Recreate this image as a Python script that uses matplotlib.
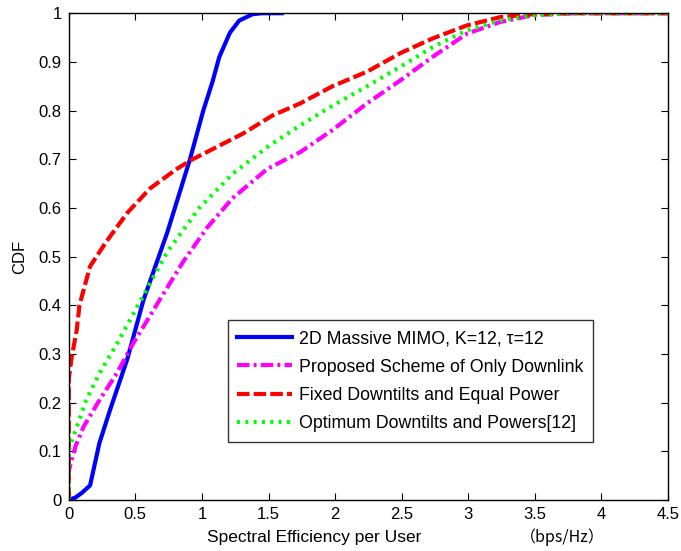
import matplotlib
matplotlib.use("Agg")
import matplotlib.pyplot as plt

plt.rcParams['font.family'] = ['Liberation Sans', 'Noto Sans CJK SC', 'DejaVu Sans']

# 2D Massive MIMO
x_mimo = [0, 0.05, 0.1, 0.16, 0.23, 0.31, 0.44, 0.56, 0.74, 0.91, 1.01, 1.08, 1.13, 1.21, 1.28, 1.38, 1.45, 1.6]
y_mimo = [0, 0.005, 0.015, 0.03, 0.117, 0.185, 0.29, 0.41, 0.55, 0.70, 0.80, 0.86, 0.91, 0.96, 0.985, 0.998, 1.0, 1.0]

# Proposed scheme of only downlink
x_prop = [0, 0, 0.02, 0.05, 0.11, 0.23, 0.36, 0.48, 0.68, 0.86, 1.04, 1.23, 1.49, 1.74, 1.98, 2.24, 2.49, 2.73, 2.99, 3.24, 3.49, 3.8, 4.5]
y_prop = [0, 0.06, 0.08, 0.11, 0.15, 0.205, 0.26, 0.32, 0.41, 0.49, 0.56, 0.62, 0.68, 0.715, 0.76, 0.815, 0.862, 0.91, 0.958, 0.982, 0.996, 1.0, 1.0]

# Fixed downtilts and equal power
x_fix = [0, 0, 0.02, 0.04, 0.06, 0.08, 0.1, 0.16, 0.28, 0.44, 0.61, 0.81, 0.93, 1.11, 1.31, 1.53, 1.74, 1.98, 2.24, 2.49, 2.73, 2.99, 3.24, 3.49, 3.8, 4.5]
y_fix = [0, 0.25, 0.29, 0.32, 0.35, 0.40, 0.42, 0.48, 0.53, 0.59, 0.64, 0.68, 0.70, 0.725, 0.753, 0.79, 0.815, 0.85, 0.88, 0.918, 0.948, 0.975, 0.992, 0.998, 1.0, 1.0]

# Optimum downtilts and powers [12]
x_opt = [0, 0, 0.02, 0.06, 0.13, 0.23, 0.36, 0.48, 0.56, 0.74, 0.98, 1.23, 1.49, 1.74, 1.98, 2.24, 2.49, 2.73, 2.99, 3.24, 3.49, 3.8, 4.5]
y_opt = [0, 0.10, 0.12, 0.15, 0.205, 0.26, 0.32, 0.38, 0.42, 0.51, 0.60, 0.67, 0.725, 0.77, 0.81, 0.85, 0.89, 0.93, 0.965, 0.985, 0.996, 1.0, 1.0]

labels = ['2D Massive MIMO, K=12, τ=12',
          'Proposed Scheme of Only Downlink',
          'Fixed Downtilts and Equal Power',
          'Optimum Downtilts and Powers[12]']

fig = plt.figure(figsize=(6.81, 5.51), dpi=100)
ax = fig.add_axes([0.101, 0.0926, 0.880, 0.8834])

ax.plot(x_mimo, y_mimo, color='#0000ff', lw=3.0, label=labels[0])
ax.plot(x_prop, y_prop, color='#ff00ff', lw=3.0, dashes=(3, 1, 0.7, 1), label=labels[1])
ax.plot(x_fix, y_fix, color='#ff0000', lw=3.0, dashes=(3, 1), label=labels[2])
ax.plot(x_opt, y_opt, color='#00ff00', lw=3.0, dashes=(0.7, 1.3), label=labels[3])

ax.set_xlim(0, 4.5)
ax.set_ylim(0, 1)
ax.set_xticks([0, 0.5, 1, 1.5, 2, 2.5, 3, 3.5, 4, 4.5])
ax.set_xticklabels(['0', '0.5', '1', '1.5', '2', '2.5', '3', '3.5', '4', '4.5'])
ax.set_yticks([0, 0.1, 0.2, 0.3, 0.4, 0.5, 0.6, 0.7, 0.8, 0.9, 1])
ax.set_yticklabels(['0', '0.1', '0.2', '0.3', '0.4', '0.5', '0.6', '0.7', '0.8', '0.9', '1'])
ax.tick_params(direction='in', top=True, right=True, labelsize=12, length=5, width=0.8, pad=5)
for s in ax.spines.values():
    s.set_linewidth(1.0)

ax.set_ylabel('CDF', fontsize=12, labelpad=8)
ax.text(0.41, -0.078, 'Spectral Efficiency per User', transform=ax.transAxes,
        ha='center', va='center', fontsize=12.5)
ax.text(0.823, -0.076, '（bps/Hz）', transform=ax.transAxes,
        ha='center', va='center', fontsize=11.5, family=['Noto Sans CJK SC'])

leg = ax.legend(loc='lower left', bbox_to_anchor=(0.265, 0.119), borderaxespad=0,
                fontsize=12.8, frameon=True, fancybox=False, edgecolor='black',
                handlelength=3.1, borderpad=0.55, labelspacing=0.64, handletextpad=0.35)
leg.get_frame().set_linewidth(1.0)

fig.savefig('out.png', dpi=100)
